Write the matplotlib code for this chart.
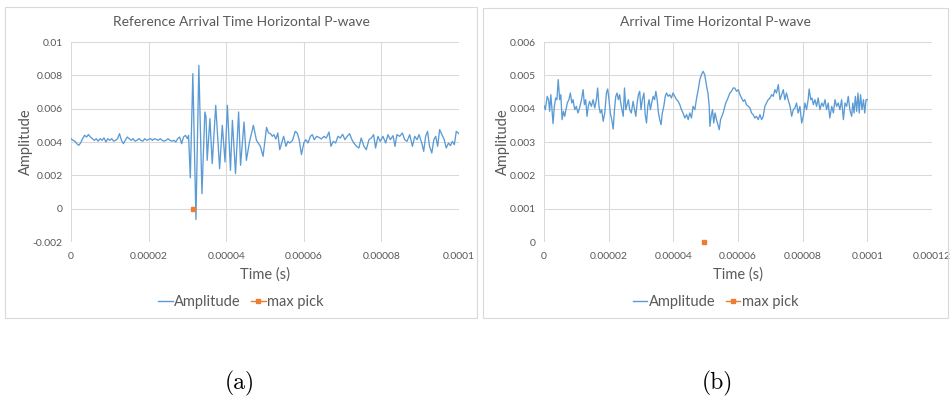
import matplotlib
matplotlib.use("Agg")
import matplotlib.pyplot as plt
from matplotlib.patches import Rectangle
from matplotlib.lines import Line2D
import numpy as np

plt.rcParams['font.family'] = ['Lato', 'DejaVu Sans']

# ---- data: (time in microseconds, amplitude) ----
samples_a = [
    (0.0, 0.0042), (0.5, 0.0041), (1.0, 0.00405), (1.5, 0.0039), (2.0, 0.0038),
    (2.5, 0.00395), (3.0, 0.0042), (3.5, 0.0044), (4.0, 0.0043), (4.5, 0.00445),
    (5.0, 0.0043), (5.5, 0.0042), (6.0, 0.0041), (6.5, 0.0042), (7.0, 0.00405),
    (7.5, 0.0042), (8.0, 0.0041), (8.5, 0.00425), (9.0, 0.0040), (9.5, 0.0042),
    (10.0, 0.0041), (10.5, 0.0042), (11.0, 0.00405), (11.5, 0.0041), (12.0, 0.0042),
    (12.5, 0.0045), (13.0, 0.0041), (13.5, 0.0039), (14.0, 0.0041), (14.5, 0.0043),
    (15.0, 0.0042), (15.5, 0.0041), (16.0, 0.0042), (16.5, 0.00405), (17.0, 0.0041),
    (17.5, 0.0042), (18.0, 0.0041), (18.5, 0.00405), (19.0, 0.0042), (19.5, 0.0041),
    (20.0, 0.00415), (20.5, 0.0042), (21.0, 0.0041), (21.5, 0.0042), (22.0, 0.00415),
    (22.5, 0.0041), (23.0, 0.0042), (23.5, 0.0041), (24.0, 0.00405), (24.5, 0.0041),
    (25.0, 0.0042), (25.5, 0.0041), (26.0, 0.00405), (26.5, 0.0041), (27.0, 0.0040),
    (27.5, 0.0042), (28.0, 0.0043), (28.5, 0.0039), (29.0, 0.0043), (29.5, 0.0044),
    (30.0, 0.0042),
    (30.3, 0.0044), (30.75, 0.00185), (31.4, 0.0081), (32.2, -0.00065), (32.95, 0.0086),
    (33.75, 0.0009), (34.5, 0.0058), (34.8, 0.0055), (35.1, 0.0029), (35.8, 0.0054),
    (36.4, 0.0027), (37.3, 0.0062), (38.3, 0.0024), (39.0, 0.0050), (39.7, 0.0028),
    (40.3, 0.0062), (41.1, 0.0023), (41.6, 0.0053), (42.4, 0.0021), (43.2, 0.0058),
    (43.7, 0.0026), (44.6, 0.0052), (45.2, 0.0029), (46.0, 0.0040), (47.0, 0.0050),
    (47.8, 0.0041),
    (48.8, 0.00374), (49.5, 0.00314), (50.4, 0.00488), (50.9, 0.00454), (51.4, 0.0045),
    (51.9, 0.00434), (52.3, 0.00444), (52.8, 0.00418), (53.3, 0.00454), (53.8, 0.00354),
    (54.3, 0.00394), (54.8, 0.00434), (55.4, 0.00374), (55.9, 0.00404), (56.4, 0.00394),
    (57.1, 0.0041), (57.8, 0.00464), (58.3, 0.00454), (58.8, 0.00414), (59.4, 0.00324),
    (60.0, 0.00394), (60.5, 0.00414), (61.1, 0.00394), (61.7, 0.00434), (62.2, 0.00444),
    (62.7, 0.00414), (63.3, 0.00434), (63.9, 0.00428), (64.5, 0.00418), (65.2, 0.00434),
    (65.8, 0.00424), (66.5, 0.0046), (67.0, 0.00374), (67.6, 0.00404), (68.2, 0.00394),
    (68.8, 0.00434), (69.4, 0.00424), (70.0, 0.00446), (70.6, 0.00414), (71.2, 0.00434),
    (71.8, 0.0045), (72.4, 0.00414), (72.9, 0.00394), (73.6, 0.00374), (74.2, 0.00364),
    (74.8, 0.00424), (75.5, 0.00374), (76.1, 0.00354), (76.8, 0.00414), (77.4, 0.00424),
    (78.0, 0.00444), (78.5, 0.00364), (79.1, 0.00434), (79.7, 0.00404), (80.4, 0.00434),
    (81.1, 0.00394), (81.7, 0.00444), (82.3, 0.00414), (83.0, 0.00438), (83.5, 0.00374),
    (84.0, 0.00444), (84.7, 0.00434), (85.4, 0.00454), (86.0, 0.00414), (86.6, 0.00404),
    (87.3, 0.00444), (88.0, 0.00374), (88.6, 0.00434), (89.2, 0.00414), (89.7, 0.00444),
    (90.4, 0.00394), (90.9, 0.00344), (91.4, 0.00434), (91.9, 0.00464), (92.4, 0.00374),
    (93.0, 0.00334), (93.5, 0.00414), (94.0, 0.00434), (94.5, 0.00374), (95.0, 0.00474),
    (95.6, 0.00444), (96.2, 0.00414), (96.7, 0.00364), (97.3, 0.00394), (97.8, 0.00378),
    (98.3, 0.00404), (98.8, 0.00384), (99.3, 0.00464), (100.0, 0.0045),
]

samples_b = [
    (0.0, 0.00409), (0.4, 0.00397), (0.7, 0.00417), (1.0, 0.00437), (1.4, 0.00427),
    (1.75, 0.00392), (2.1, 0.00442), (2.4, 0.00407), (2.8, 0.00355), (3.2, 0.00407),
    (3.6, 0.00432), (4.0, 0.00427), (4.4, 0.00487), (4.85, 0.00427), (5.2, 0.00442),
    (5.6, 0.00367), (6.0, 0.00392), (6.4, 0.00377), (6.8, 0.00397), (7.2, 0.00417),
    (7.7, 0.00427), (8.15, 0.00447), (8.6, 0.00417), (9.0, 0.00427), (9.5, 0.00397),
    (10.0, 0.00407), (10.5, 0.00387), (11.0, 0.00402), (11.6, 0.00427), (12.1, 0.00457),
    (12.5, 0.00412), (12.9, 0.00427), (13.3, 0.00377), (13.7, 0.00407), (14.1, 0.00422),
    (14.65, 0.00407), (15.2, 0.00427), (15.7, 0.00402), (16.2, 0.00427), (16.6, 0.00462),
    (17.0, 0.00407), (17.4, 0.00387), (17.85, 0.00397), (18.3, 0.00362), (18.8, 0.00387),
    (19.3, 0.00447), (19.7, 0.00459), (20.1, 0.00427), (20.5, 0.00387), (20.95, 0.00367),
    (21.4, 0.00339), (21.8, 0.00397), (22.2, 0.00437), (22.6, 0.00447), (23.0, 0.00427),
    (23.4, 0.00442), (23.9, 0.00407), (24.5, 0.00377), (24.9, 0.00462), (25.3, 0.00397),
    (25.7, 0.00412), (26.1, 0.00427), (26.5, 0.00397), (27.0, 0.00387), (27.55, 0.00422),
    (28.0, 0.00397), (28.4, 0.00377), (28.8, 0.00417), (29.2, 0.00442), (29.6, 0.00452),
    (30.0, 0.00397), (30.4, 0.00427), (30.9, 0.00447), (31.3, 0.00382), (31.7, 0.00357),
    (32.1, 0.00407), (32.5, 0.00427), (32.9, 0.00397), (33.3, 0.00417), (33.75, 0.00437),
    (34.2, 0.00427), (34.6, 0.00452), (35.0, 0.00427), (35.4, 0.00387), (35.8, 0.00367),
    (36.2, 0.00352), (36.6, 0.00387), (37.05, 0.00407), (37.5, 0.00437), (37.9, 0.00447),
    (38.4, 0.00437), (38.9, 0.00442), (39.4, 0.00432), (39.9, 0.00447), (40.45, 0.00437),
    (41.0, 0.00427), (41.5, 0.00422), (42.0, 0.00412), (42.5, 0.00397), (43.0, 0.00387),
    (43.55, 0.00372), (44.1, 0.00382), (44.6, 0.00367), (45.1, 0.00387), (45.6, 0.00372),
    (46.1, 0.00407), (46.65, 0.00397), (47.2, 0.00432), (47.7, 0.00457), (48.2, 0.00487),
    (48.7, 0.00502), (49.2, 0.00512), (49.7, 0.00502), (50.3, 0.00467), (50.7, 0.00447),
    (51.1, 0.00407), (51.3, 0.00347), (51.7, 0.00377), (52.1, 0.00397), (52.5, 0.00357),
    (52.9, 0.00387), (53.35, 0.00367), (53.8, 0.00352), (54.2, 0.00337), (54.6, 0.00367),
    (55.0, 0.00377), (55.4, 0.00387), (55.8, 0.00402), (56.2, 0.00417), (56.7, 0.00427),
    (57.1, 0.00437), (57.5, 0.00447), (58.0, 0.00452), (58.5, 0.00462), (59.0, 0.00462),
    (59.55, 0.00452), (60.1, 0.00457), (60.6, 0.00442), (61.1, 0.00432), (61.6, 0.00422),
    (62.1, 0.00427), (62.6, 0.00412), (63.2, 0.00407), (63.7, 0.00402), (64.2, 0.00387),
    (64.7, 0.00382), (65.2, 0.00372), (65.7, 0.00377), (66.25, 0.00367), (66.8, 0.00382),
    (67.3, 0.00367), (67.8, 0.00377), (68.3, 0.00407), (68.8, 0.00417), (69.35, 0.00427),
    (69.9, 0.00432), (70.4, 0.00442), (70.9, 0.00437), (71.4, 0.00457), (71.9, 0.00447),
    (72.45, 0.00472), (73.0, 0.00427), (73.5, 0.00442), (74.0, 0.00457), (74.5, 0.00427),
    (75.0, 0.00447), (75.5, 0.00427), (76.1, 0.00407), (76.6, 0.00377), (77.1, 0.00397),
    (77.6, 0.00402), (78.1, 0.00417), (78.6, 0.00387), (79.15, 0.00407), (79.7, 0.00357),
    (80.2, 0.00377), (80.7, 0.00417), (81.2, 0.00397), (81.7, 0.00427), (82.0, 0.00459),
    (82.5, 0.00427), (82.9, 0.00432), (83.3, 0.00412), (83.8, 0.00427), (84.3, 0.00407),
    (84.8, 0.00432), (85.35, 0.00397), (85.9, 0.00417), (86.4, 0.00407), (86.9, 0.00427),
    (87.4, 0.00397), (87.9, 0.00417), (88.4, 0.00372), (89.0, 0.00407), (89.5, 0.00387),
    (90.0, 0.00427), (90.5, 0.00407), (91.0, 0.00417), (91.5, 0.00397), (92.05, 0.00427),
    (92.6, 0.00367), (93.1, 0.00417), (93.6, 0.00407), (94.1, 0.00437), (94.6, 0.00397),
    (95.15, 0.00377), (95.5, 0.00417), (95.9, 0.00387), (96.3, 0.00437), (96.7, 0.00392),
    (97.1, 0.00447), (97.5, 0.00387), (97.9, 0.00442), (98.35, 0.00397), (98.8, 0.00427),
    (99.2, 0.00387), (99.6, 0.00427), (100.0, 0.00427),
]

pick_time_a = 0.0000314
pick_time_b = 0.0000494
pick_amp_a = 0.0
pick_amp_b = 0.0

titles = ["Reference Arrival Time Horizontal P-wave", "Arrival Time Horizontal P-wave"]
captions = ["(a)", "(b)"]
series_names = ["Amplitude", "max pick"]

x_ticks_a = [0, 0.00002, 0.00004, 0.00006, 0.00008, 0.0001]
x_labels_a = ["0", "0.00002", "0.00004", "0.00006", "0.00008", "0.0001"]
y_ticks_a = [-0.002, 0, 0.002, 0.004, 0.006, 0.008, 0.01]
y_labels_a = ["-0.002", "0", "0.002", "0.004", "0.006", "0.008", "0.01"]

x_ticks_b = [0, 0.00002, 0.00004, 0.00006, 0.00008, 0.0001, 0.00012]
x_labels_b = ["0", "0.00002", "0.00004", "0.00006", "0.00008", "0.0001", "0.00012"]
y_ticks_b = [0, 0.001, 0.002, 0.003, 0.004, 0.005, 0.006]
y_labels_b = ["0", "0.001", "0.002", "0.003", "0.004", "0.005", "0.006"]

# ---- styling ----
BLUE = "#5B9BD5"
ORANGE = "#ED7D31"
GRID = "#d9d9d9"
TEXT = "#595959"

W, H = 950, 403
fig = plt.figure(figsize=(W / 100, H / 100), dpi=100)


def fig_box(left, top, right, bottom):
    return [left / W, 1 - bottom / H, (right - left) / W, (bottom - top) / H]


def chart(frame, plot, samples, pick_t, pick_v, title, caption, cap_x,
          xt, xl, yt, yl):
    fl, ft, fr, fb = frame
    fig.patches.append(Rectangle((fl / W, 1 - fb / H), (fr - fl) / W, (fb - ft) / H,
                                 transform=fig.transFigure, fill=False,
                                 ec=GRID, lw=0.8))
    ax = fig.add_axes(fig_box(*plot))
    t = np.array([s[0] for s in samples]) * 1e-6
    v = np.array([s[1] for s in samples])
    ax.plot(t, v, color=BLUE, lw=0.95, solid_joinstyle="round")
    ax.plot([pick_t], [pick_v], marker="s", ms=3.2, color=ORANGE, ls="-",
            clip_on=False, zorder=5)
    ax.set_xlim(xt[0], xt[-1])
    ax.set_ylim(yt[0], yt[-1])
    ax.set_xticks(xt, xl)
    ax.set_yticks(yt, yl)
    ax.grid(True, color=GRID, lw=0.75)
    ax.set_axisbelow(True)
    for sp in ax.spines.values():
        sp.set_visible(False)
    ax.tick_params(length=0, labelsize=7.5, labelcolor=TEXT)
    ax.tick_params(axis="x", pad=7)
    ax.tick_params(axis="y", pad=6)
    ax.set_xlabel("Time (s)", fontsize=10.5, color=TEXT, labelpad=5)
    ax.set_ylabel("Amplitude", fontsize=10.5, color=TEXT, labelpad=0)
    cx = (fl + fr) / 2
    fig.text(cx / W, 1 - 22 / H, title, ha="center", va="center",
             fontsize=10, color=TEXT)
    handles = [Line2D([], [], color=BLUE, lw=1.0),
               Line2D([], [], color=ORANGE, lw=1.0, marker="s", ms=3)]
    fig.legend(handles, series_names, loc="center", ncol=2,
               bbox_to_anchor=(cx / W, 1 - 302 / H), frameon=False,
               fontsize=10.5, labelcolor=TEXT, handlelength=1.0,
               handletextpad=0.1, columnspacing=0.7)
    fig.text(cap_x / W, 1 - 383 / H, caption, ha="center", va="center",
             family="cmr10", fontsize=17)
    return ax


chart((5, 7, 477, 318), (71, 42, 459, 242), samples_a, pick_time_a, pick_amp_a,
      titles[0], captions[0], 240, x_ticks_a, x_labels_a, y_ticks_a, y_labels_a)
chart((483, 8, 948, 318), (544, 42, 932, 242), samples_b, pick_time_b, pick_amp_b,
      titles[1], captions[1], 717, x_ticks_b, x_labels_b, y_ticks_b, y_labels_b)

fig.savefig("out.png", dpi=100, facecolor="white")
